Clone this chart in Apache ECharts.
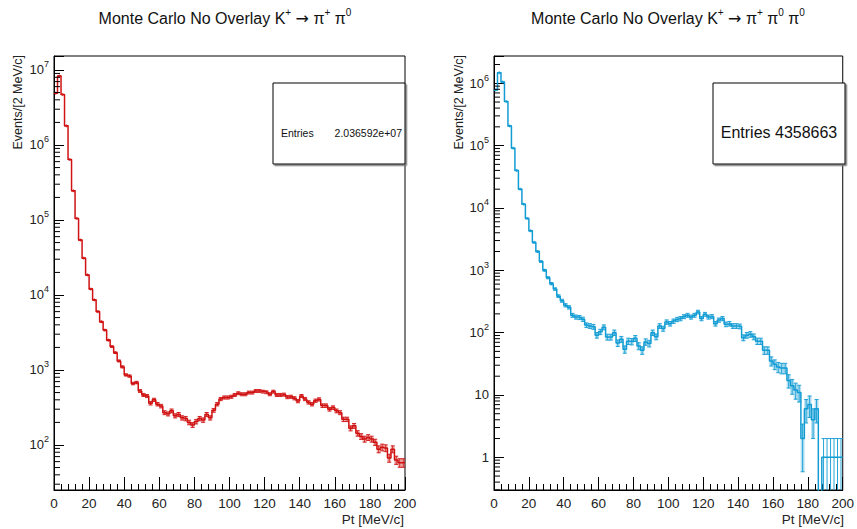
<!DOCTYPE html>
<html>
<head>
<meta charset="utf-8">
<script src="https://cdn.jsdelivr.net/npm/echarts@6/dist/echarts.min.js"></script>
<style>html,body{margin:0;padding:0;background:#fff}#c{width:857px;height:529px}</style>
</head>
<body>
<div id="c"></div>
<script>
// ---------------- data ----------------
const ptMin = 0, ptMax = 200, binWidth = 2;           // Pt [MeV/c], 100 bins of 2 MeV/c
const xTickStep = 20;

// Left panel: K+ -> pi+ pi0 (events per 2 MeV/c bin)
const redCounts = [
  4.9e6, 8.3e6, 4.7e6, 1.8e6, 6.4e5, 2.45e5, 1.05e5, 5.4e4, 3.1e4, 1.85e4,
  1.2e4, 8600, 6000, 4400, 3400, 2500, 2050, 1700, 1320, 1100,
  860, 830, 660, 680, 525, 465, 450, 360, 400, 350,
  330, 270, 260, 285, 245, 255, 230, 225, 200, 185,
  205, 225, 215, 255, 230, 290, 350, 410, 430, 430,
  440, 465, 490, 475, 475, 500, 500, 525, 525, 515,
  505, 475, 515, 465, 465, 470, 435, 440, 420, 385,
  450, 410, 370, 350, 390, 405, 335, 335, 300, 315,
  285, 270, 220, 220, 167, 180, 143, 130, 120, 126,
  120, 109, 88, 93, 91, 67, 88, 63, 58, 58
];

// Right panel: K+ -> pi+ pi0 pi0
const blueCounts = [
  7.8e5, 1.48e6, 1.05e6, 5.1e5, 2.07e5, 9.1e4, 4.0e4, 2.0e4, 1.15e4, 6800,
  4300, 2800, 2000, 1380, 1000, 760, 610, 500, 385, 325,
  275, 255, 190, 178, 175, 164, 132, 128, 124, 91,
  103, 122, 85, 85, 100, 68, 78, 54, 73, 72,
  81, 61, 52, 71, 67, 100, 86, 128, 116, 148,
  139, 153, 163, 168, 181, 190, 178, 190, 214, 168,
  197, 178, 181, 139, 159, 168, 136, 139, 128, 128,
  126, 83, 91, 94, 86, 73, 73, 52, 52, 35,
  31, 28, 27, 27, 17, 14, 12, 11, 2, 6,
  7, 4, 6, 0, 1, 1, 1, 1, 1, 1
];

const titles = [
  'Monte Carlo No Overlay K{s|+} {a|\u2192} \u03c0{s|+} \u03c0{s|0}',
  'Monte Carlo No Overlay K{s|+} {a|\u2192} \u03c0{s|+} \u03c0{s|0} \u03c0{s|0}'
];
const yTitle = 'Events/[2 MeV/c]';
const xTitle = 'Pt [MeV/c]';
const leftEntries = '2.036592e+07';
const rightEntries = '4358663';
const yRanges = [[25.1, 1.537e7], [0.2988, 2.74e6]];

// ---------------- helpers ----------------
const FONT = '"Liberation Sans", Arial, Helvetica, sans-serif';
const RED = '#d01212', BLUE = '#129cd4';

function stepData(counts) {
  const d = counts.map((c, i) => [ptMin + i * binWidth, c > 0 ? c : 1e-4]);
  d.push([ptMin + counts.length * binWidth, d[d.length - 1][1]]);
  return d;
}
function barData(counts) {
  return counts.map((c, i) => [ptMin + (i + 0.5) * binWidth, c]).filter(d => d[1] > 0);
}
function minorTickValues(min, max) {
  const out = [];
  for (let k = Math.floor(Math.log10(min)); k <= Math.ceil(Math.log10(max)); k++) {
    for (let m = 2; m <= 9; m++) { const v = m * Math.pow(10, k); if (v >= min && v <= max) out.push([ptMin, v]); }
  }
  return out;
}
function yLabel(v) {
  const l = Math.log10(v); const k = Math.round(l);
  if (Math.abs(l - k) > 1e-6) return '';
  if (k === 0) return '{b|1}';
  if (k === 1) return '{b|10}';
  return '{b|10}{s|' + k + '}';
}
function errRender(color) {
  return function (params, api) {
    const x = api.value(0), v = api.value(1);
    const cs = params.coordSys;
    const top = cs.y, bottom = cs.y + cs.height;
    const c = api.coord([x, v]);
    const e = Math.sqrt(v);
    let yt = Math.max(api.coord([x, v + e])[1], top);
    let yb = v - e > 0 ? Math.min(api.coord([x, v - e])[1], bottom) : bottom;
    if (c[1] > bottom) return null;
    const st = { stroke: color, lineWidth: 1, opacity: 0.9 };
    const hw = 2;
    const ch = [
      { type: 'line', shape: { x1: c[0], y1: Math.min(yt, c[1] - 1.5), x2: c[0], y2: Math.max(yb, c[1] + 1.5) }, style: st },
      { type: 'line', shape: { x1: c[0] - hw, y1: yt, x2: c[0] + hw, y2: yt }, style: st }
    ];
    if (v - e > 0) {
      ch.unshift({ type: 'rect', shape: { x: c[0] - hw, y: yt, width: 2 * hw, height: Math.max(yb - yt, 0) },
        style: { fill: color, opacity: 0.3 } });
      ch.push({ type: 'line', shape: { x1: c[0] - hw, y1: yb, x2: c[0] + hw, y2: yb }, style: st });
    }
    return { type: 'group', children: ch };
  };
}
function minorRender(params, api) {
  const y = api.coord([ptMin, api.value(1)])[1];
  const x = params.coordSys.x;
  return { type: 'line', shape: { x1: x, y1: y, x2: x + 6, y2: y }, style: { stroke: '#000', lineWidth: 1 } };
}

const grids = [
  { left: 54, top: 56, width: 351, height: 434, show: true, borderColor: '#000', borderWidth: 1 },
  { left: 494, top: 56, width: 351, height: 434, show: true, borderColor: '#000', borderWidth: 1 }
];

const xAxes = [0, 1].map(i => ({
  gridIndex: i, type: 'value', min: ptMin, max: ptMax, interval: xTickStep,
  axisLine: { show: true, lineStyle: { color: '#000', width: 1 } },
  axisTick: { show: true, inside: true, length: 13, lineStyle: { color: '#000' } },
  minorTick: { show: true, splitNumber: 5, length: 6, lineStyle: { color: '#000' } },
  splitLine: { show: false },
  axisLabel: { fontFamily: FONT, fontSize: 13.5, color: '#222', margin: 6 }
}));

const yAxes = [0, 1].map(i => ({
  gridIndex: i, type: 'log', logBase: 10, min: yRanges[i][0], max: yRanges[i][1],
  axisLine: { show: true, lineStyle: { color: '#000', width: 1 } },
  axisTick: { show: true, inside: true, length: 10, lineStyle: { color: '#000' } },
  splitLine: { show: false },
  axisLabel: {
    formatter: yLabel, margin: 5, fontFamily: FONT, color: '#222',
    rich: {
      b: { fontSize: 13, fontFamily: FONT, color: '#222', lineHeight: 20 },
      s: { fontSize: 9, fontFamily: FONT, color: '#222', verticalAlign: 'top', lineHeight: 10 }
    }
  }
}));

const series = [];
[[redCounts, RED], [blueCounts, BLUE]].forEach(([counts, color], i) => {
  series.push({
    type: 'line', xAxisIndex: i, yAxisIndex: i, step: 'end', symbol: 'none',
    data: stepData(counts), lineStyle: { color: color, width: 1.5 }, silent: true, z: 2
  });
  series.push({
    type: 'custom', xAxisIndex: i, yAxisIndex: i, data: barData(counts),
    renderItem: errRender(color), silent: true, z: 3
  });
  series.push({
    type: 'custom', xAxisIndex: i, yAxisIndex: i, data: minorTickValues(yRanges[i][0], yRanges[i][1]),
    renderItem: minorRender, silent: true, z: 4
  });
});

const titleRich = {
  s: { fontSize: 10, fontFamily: FONT, color: '#111', verticalAlign: 'top', lineHeight: 10 },
  a: { fontSize: 16, fontFamily: '"DejaVu Sans", sans-serif', color: '#111' }
};
const graphic = [
  { type: 'text', x: 225, y: 18, style: { text: titles[0], font: '16px ' + FONT, fill: '#111', align: 'center', verticalAlign: 'middle', lineHeight: 22, rich: titleRich } },
  { type: 'text', x: 668, y: 18, style: { text: titles[1], font: '16px ' + FONT, fill: '#111', align: 'center', verticalAlign: 'middle', lineHeight: 22, rich: titleRich } },
  { type: 'text', x: 18, y: 55, rotation: Math.PI / 2, style: { text: yTitle, font: '12.5px ' + FONT, fill: '#222', align: 'right', verticalAlign: 'middle' } },
  { type: 'text', x: 459, y: 55, rotation: Math.PI / 2, style: { text: yTitle, font: '12.5px ' + FONT, fill: '#222', align: 'right', verticalAlign: 'middle' } },
  { type: 'text', x: 404, y: 519, style: { text: xTitle, font: '13.5px ' + FONT, fill: '#222', align: 'right', verticalAlign: 'middle' } },
  { type: 'text', x: 844, y: 519, style: { text: xTitle, font: '13.5px ' + FONT, fill: '#222', align: 'right', verticalAlign: 'middle' } },
  { type: 'rect', shape: { x: 273, y: 83, width: 132, height: 81 }, style: { fill: '#fff', stroke: '#000', lineWidth: 1, shadowColor: '#777', shadowOffsetX: 1.5, shadowOffsetY: 1.5, shadowBlur: 0 }, z: 10 },
  { type: 'text', x: 281, y: 133, z: 11, style: { text: 'Entries', font: '10.5px ' + FONT, fill: '#111', align: 'left', verticalAlign: 'middle' } },
  { type: 'text', x: 402, y: 133, z: 11, style: { text: leftEntries, font: '10.5px ' + FONT, fill: '#111', align: 'right', verticalAlign: 'middle' } },
  { type: 'rect', shape: { x: 713, y: 83, width: 132, height: 81 }, style: { fill: '#fff', stroke: '#000', lineWidth: 1, shadowColor: '#777', shadowOffsetX: 1.5, shadowOffsetY: 1.5, shadowBlur: 0 }, z: 10 },
  { type: 'text', x: 779, y: 132, z: 11, style: { text: 'Entries ' + rightEntries, font: '16px ' + FONT, fill: '#111', align: 'center', verticalAlign: 'middle' } }
];

const chart = echarts.init(document.getElementById('c'), null, { renderer: 'svg', width: 857, height: 529 });
chart.setOption({
  animation: false,
  backgroundColor: '#fff',
  grid: grids,
  xAxis: xAxes,
  yAxis: yAxes,
  series: series,
  graphic: graphic
});
</script>
</body>
</html>
